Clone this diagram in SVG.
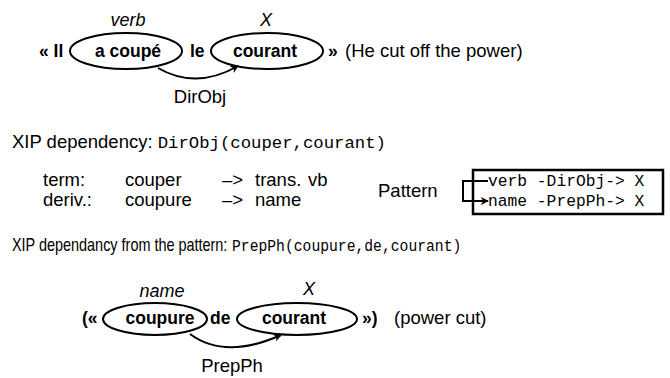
<svg xmlns="http://www.w3.org/2000/svg" width="670" height="378" viewBox="0 0 670 378">
<style>
text{font-family:"Liberation Sans",Arial,sans-serif;font-size:18.5px;fill:#000}
.b{font-weight:bold;font-size:17.5px}
.i{font-style:italic;font-size:18px}
.m{font-family:"Liberation Mono","Courier New",monospace;font-size:17.3px}
.mb{font-family:"Liberation Mono","Courier New",monospace;font-size:16.3px}
.mid{text-anchor:middle}
.node{fill:none;stroke:#000;stroke-width:2}
.edge{fill:none;stroke:#000;stroke-width:2}
</style>
<defs>
<marker id="ah" viewBox="0 0 10 10" refX="9" refY="5" markerWidth="8" markerHeight="8" orient="auto" markerUnits="userSpaceOnUse">
<path d="M0,0 L10,5 L0,10 L3,5 Z" fill="#000"/>
</marker>
</defs>

<!-- top sentence -->
<text class="b" x="39" y="57">« Il</text>
<g id="n-acoupe">
<ellipse class="node" cx="126" cy="51" rx="56" ry="18"/>
<text class="b mid" x="128" y="57">a coupé</text>
<text class="i mid" x="128" y="26">verb</text>
</g>
<text class="b" x="190" y="57">le</text>
<g id="n-courant1">
<ellipse class="node" cx="267" cy="51" rx="56" ry="18"/>
<text class="b mid" x="265" y="57">courant</text>
<text class="i mid" x="266" y="26">X</text>
</g>
<text class="b" x="328" y="57">»</text>
<text x="345" y="57">(He cut off the power)</text>

<!-- bottom sentence -->
<text class="b" x="82" y="324">(«</text>
<g id="n-coupure">
<ellipse class="node" cx="155" cy="319" rx="52" ry="16"/>
<text class="b mid" x="160" y="324">coupure</text>
<text class="i mid" x="162" y="297">name</text>
</g>
<text class="b" x="210" y="324">de</text>
<g id="n-courant2">
<ellipse class="node" cx="297" cy="319" rx="60" ry="16"/>
<text class="b mid" x="294" y="324">courant</text>
<text class="i mid" x="309" y="295">X</text>
</g>
<text class="b" x="362" y="324">»)</text>
<text x="394" y="324">(power cut)</text>

<g id="connectors">
<path class="edge" d="M158,68 Q196,90 238,66" marker-end="url(#ah)"/>
<path class="edge" d="M190,334 Q225,360 281,335" marker-end="url(#ah)"/>
<polyline class="edge" points="488,181 463,181 463,201 488,201" marker-end="url(#ah)"/>
</g>
<text class="mid" x="200" y="103">DirObj</text>
<text class="mid" x="232" y="372">PrepPh</text>

<!-- XIP lines -->
<text x="12" y="148">XIP dependency: <tspan class="m">DirObj(couper,courant)</tspan></text>

<text x="43" y="186">term:</text>
<text x="125" y="186">couper</text>
<text x="222" y="186">–&gt;</text>
<text x="255" y="186">trans.</text>
<text x="308" y="186">vb</text>
<text x="43" y="206">deriv.:</text>
<text x="125" y="206">coupure</text>
<text x="222" y="206">–&gt;</text>
<text x="255" y="206">name</text>

<text x="378" y="197">Pattern</text>
<g id="pattern">
<rect x="473" y="170" width="190" height="44" fill="none" stroke="#000" stroke-width="2.5"/>
<text class="mb" x="488" y="186">verb -DirObj-&gt; X</text>
<text class="mb" x="488" y="206">name -PrepPh-&gt; X</text>
</g>

<text transform="translate(12,251) scale(0.78,1)" x="0" y="0">XIP dependancy from the pattern:</text>
<text class="m" transform="translate(232,251) scale(0.85,1)" x="0" y="0">PrepPh(coupure,de,courant)</text>
</svg>
